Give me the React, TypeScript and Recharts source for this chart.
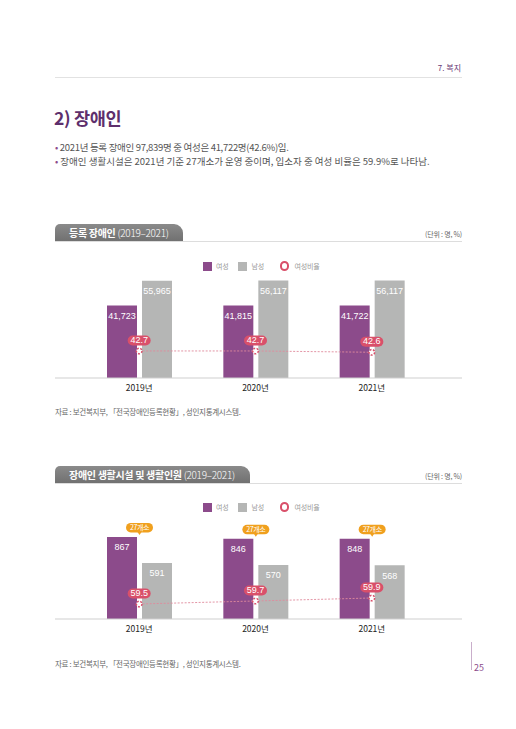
import React from "react";
import { Bar, ComposedChart, LabelList, Line, XAxis, YAxis } from "recharts";

const YEARS = ["2019년", "2020년", "2021년"];

// 등록 장애인
const REG_FEMALE = [41723, 41815, 41722];
const REG_MALE = [55965, 56117, 56117];
const REG_RATIO = [42.7, 42.7, 42.6];

// 생활시설 및 생활인원
const FACILITIES = [27, 27, 27];
const RES_FEMALE = [867, 846, 848];
const RES_MALE = [591, 570, 568];
const RES_RATIO = [59.5, 59.7, 59.9];

const FEMALE = "#8c4b8b";
const MALE = "#b5b6b5";
const RATIO = "#d9506a";
const ORANGE = "#f0a01e";
const FONT = '"Noto Sans CJK KR", "Noto Sans", sans-serif';
const NUM_FONT = '"Liberation Sans Narrow", "Liberation Sans", Arial, sans-serif';

const regRows = YEARS.map((y, i) => ({
  year: y,
  female: REG_FEMALE[i],
  male: REG_MALE[i],
  ratio: REG_RATIO[i],
}));

const resRows = YEARS.map((y, i) => ({
  year: y,
  female: RES_FEMALE[i],
  male: RES_MALE[i],
  ratio: RES_RATIO[i],
  facilities: FACILITIES[i],
}));

const fmt = (v: number) => v.toLocaleString("en-US");

function RatioPill(props: any) {
  const { x, y, value } = props;
  if (x == null || y == null) return null;
  return (
    <g>
      <rect x={x - 11.5} y={y - 15.5} width={23} height={10} rx={5} fill={RATIO} />
      <text
        x={x}
        y={y - 10.3}
        fill="#fff"
        fontSize={9}
        fontFamily={NUM_FONT}
        textAnchor="middle"
        dominantBaseline="middle"
      >
        {value.toFixed(1)}
      </text>
    </g>
  );
}

function FacilityPill(props: any) {
  const { x, y, width, value } = props;
  if (x == null || y == null) return null;
  const cx = x + width + 2.5;
  const top = y - 14;
  return (
    <g>
      <rect x={cx - 13.5} y={top} width={27} height={9.5} rx={4.75} fill={ORANGE} />
      <path d={`M${cx - 2},${top + 9} L${cx + 2},${top + 9} L${cx},${top + 12} Z`} fill={ORANGE} />
      <text
        x={cx}
        y={top + 5}
        fill="#fff"
        fontSize={7}
        letterSpacing={-0.4}
        textAnchor="middle"
        dominantBaseline="middle"
      >
        {value}개소
      </text>
    </g>
  );
}

function Legend({ top }: { top: number }) {
  const txt = { fontSize: 7, color: "#999", lineHeight: "9px", letterSpacing: -0.2 };
  return (
    <div style={{ position: "absolute", top: top - 4.5, left: 203, display: "flex", alignItems: "center", height: 9 }}>
      <span style={{ width: 9, height: 9, background: FEMALE, display: "inline-block" }} />
      <span style={{ ...txt, marginLeft: 4 }}>여성</span>
      <span style={{ width: 9, height: 9, background: MALE, display: "inline-block", marginLeft: 10 }} />
      <span style={{ ...txt, marginLeft: 4 }}>남성</span>
      <span
        style={{
          width: 5.5,
          height: 5.5,
          borderRadius: "50%",
          border: `2px solid ${RATIO}`,
          display: "inline-block",
          marginLeft: 16,
        }}
      />
      <span style={{ ...txt, marginLeft: 5 }}>여성비율</span>
    </div>
  );
}

function Tab({ top, width, bold, rest }: { top: number; width: number; bold: string; rest: string }) {
  return (
    <>
      <div
        style={{
          position: "absolute",
          top,
          left: 55,
          width,
          height: 17.5,
          borderRadius: "5px 9px 0 0",
          background: "linear-gradient(#8a8a8a, #6f6f6f)",
          color: "#fff",
          fontSize: 10,
          letterSpacing: -0.3,
          lineHeight: "17.5px",
          paddingLeft: 14,
          boxSizing: "border-box",
          whiteSpace: "nowrap",
        }}
      >
        <b>{bold}</b> <span style={{ fontWeight: 300 }}>{rest}</span>
      </div>
      <div style={{ position: "absolute", top: top + 17, left: 55, width: 407, height: 1, background: "#ddd" }} />
      <div
        style={{
          position: "absolute",
          top: top + 5,
          right: 516 - 462,
          fontSize: 7,
          color: "#666",
          lineHeight: "10px",
          letterSpacing: -0.2,
        }}
      >
        (단위 : 명, %)
      </div>
    </>
  );
}

function Chart({
  rows,
  top,
  height,
  barMax,
  ratioDomain,
  withFacilities,
}: {
  rows: any[];
  top: number;
  height: number;
  barMax: number;
  ratioDomain: [number, number];
  withFacilities?: boolean;
}) {
  return (
    <div style={{ position: "absolute", top, left: 55 }}>
      <ComposedChart
        width={407}
        height={height + 22}
        data={rows}
        margin={{ top: 0, right: 0, bottom: 0, left: 0 }}
        barSize={30}
        barGap={5}
      >
        <XAxis
          dataKey="year"
          height={22}
          padding={{ left: 26, right: 32 }}
          axisLine={{ stroke: "#cfcfcf" }}
          tickLine={false}
          tickSize={5}
          tick={{ fill: "#222", fontSize: 8.5 }}
        />
        <YAxis yAxisId="v" hide domain={[0, barMax]} allowDataOverflow />
        <YAxis yAxisId="r" hide orientation="right" domain={ratioDomain} allowDataOverflow />
        <Bar yAxisId="v" dataKey="female" fill={FEMALE} isAnimationActive={false}>
          <LabelList
            dataKey="female"
            position="insideTop"
            offset={7}
            fill="#fff"
            fontSize={9}
            fontFamily={NUM_FONT}
            formatter={fmt}
          />
          {withFacilities && <LabelList dataKey="facilities" content={FacilityPill} />}
        </Bar>
        <Bar yAxisId="v" dataKey="male" fill={MALE} isAnimationActive={false}>
          <LabelList
            dataKey="male"
            position="insideTop"
            offset={7}
            fill="#fff"
            fontSize={9}
            fontFamily={NUM_FONT}
            formatter={fmt}
          />
        </Bar>
        <Line
          yAxisId="r"
          dataKey="ratio"
          stroke="#e08a9c"
          strokeWidth={0.9}
          strokeDasharray="2 1.5"
          dot={{ r: 2.8, fill: "#fff", stroke: RATIO, strokeWidth: 1.5 }}
          activeDot={false}
          isAnimationActive={false}
        >
          <LabelList dataKey="ratio" content={RatioPill} />
        </Line>
      </ComposedChart>
    </div>
  );
}

export default function App() {
  return (
    <div
      style={{
        position: "absolute",
        top: 0,
        left: 0,
        width: 516,
        height: 729,
        background: "#fff",
        fontFamily: FONT,
        overflow: "hidden",
      }}
    >
      <div style={{ position: "absolute", top: 62, right: 516 - 461, fontSize: 8, color: "#6a3a76" }}>7. 복지</div>
      <div style={{ position: "absolute", top: 77, left: 55, width: 407, height: 1, background: "#e2e2e2" }} />

      <div
        style={{
          position: "absolute",
          top: 105,
          left: 54,
          fontSize: 17.5,
          fontWeight: 700,
          color: "#5e2f6c",
          lineHeight: "26px",
          letterSpacing: -0.3,
        }}
      >
        2) 장애인
      </div>
      <div
        style={{
          position: "absolute",
          top: 141,
          left: 55,
          fontSize: 9.5,
          color: "#555",
          lineHeight: "13.7px",
          whiteSpace: "nowrap",
        }}
      >
        <div style={{ letterSpacing: -0.3 }}>
          <span style={{ color: FEMALE }}>•</span> 2021년 등록 장애인 97,839명 중 여성은 41,722명(42.6%)임.
        </div>
        <div style={{ letterSpacing: 0 }}>
          <span style={{ color: FEMALE }}>•</span> 장애인 생활시설은 2021년 기준 27개소가 운영 중이며, 입소자 중 여성 비율은
          59.9%로 나타남.
        </div>
      </div>

      <Tab top={224} width={128} bold="등록 장애인" rest="(2019–2021)" />
      <Legend top={266} />
      <Chart rows={regRows} top={270} height={108} barMax={62200} ratioDomain={[40.62, 48.93]} />
      <div
        style={{ position: "absolute", top: 406, left: 55, fontSize: 7.5, color: "#666", letterSpacing: -0.3 }}
      >
        자료 : 보건복지부, 「전국장애인등록현황」, 성인지통계시스템.
      </div>

      <Tab top={466} width={195} bold="장애인 생활시설 및 생활인원" rest="(2019–2021)" />
      <Legend top={507} />
      <Chart
        rows={resRows}
        top={515}
        height={104}
        barMax={1098}
        ratioDomain={[58.5, 65.43]}
        withFacilities
      />
      <div
        style={{ position: "absolute", top: 658, left: 55, fontSize: 7.5, color: "#666", letterSpacing: -0.3 }}
      >
        자료 : 보건복지부, 「전국장애인등록현황」, 성인지통계시스템.
      </div>

      <div style={{ position: "absolute", top: 642, left: 471, width: 1, height: 28, background: "#c9aecb" }} />
      <div style={{ position: "absolute", top: 661, left: 474, fontSize: 9, color: FEMALE }}>25</div>
    </div>
  );
}
